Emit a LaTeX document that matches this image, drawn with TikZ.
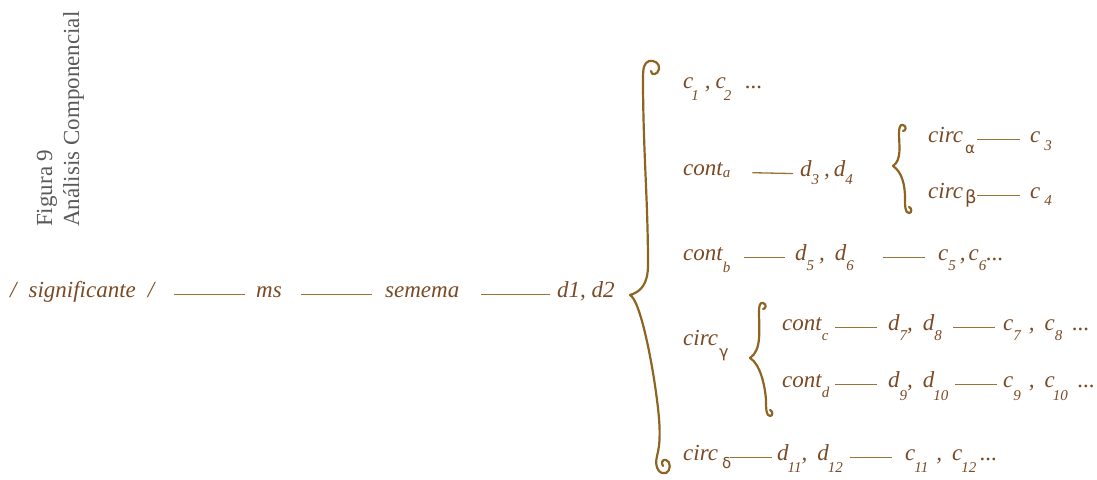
\documentclass[tikz,border=0pt]{standalone}
\usepackage{fontspec}
\setmainfont{Liberation Serif}
\newfontfamily\grk{DejaVu Sans}
\definecolor{txt}{HTML}{7B4A25}
\definecolor{linec}{HTML}{9A7235}
\definecolor{bracec}{HTML}{8E6422}
\definecolor{titlec}{HTML}{5A5A5A}
\newcommand\lo[2][11pt]{\raisebox{-#1}{\fontsize{15}{15}\selectfont #2}}
\newcommand\gr[3][11pt]{\raisebox{-#1}{\grk\upshape\fontsize{#2}{#2}\selectfont #3}}
\begin{document}
\begin{tikzpicture}[x=1pt,y=-1pt,
  t/.style={anchor=base west, inner sep=0pt, text=txt, font=\itshape\fontsize{23}{27}\selectfont},
  tw/.style={t, text width=#1, align=left},
  conn/.style={draw=linec, line width=1.3pt},
  brace/.style={draw=bracec, line width=2.2pt, line cap=round, line join=round},
  title/.style={anchor=base west, inner sep=0pt, text=titlec, font=\fontsize{23}{27}\selectfont, align=left, rotate=90}]
\useasboundingbox (0,0) rectangle (1097,479);

% title
\node[title] (title) at (79,227) {Figura 9\\Análisis Componencial};

% main row
\node[tw=164pt] (sig) at (10,297) {\mbox{/\hspace{12pt}significante\hspace{12pt}/}};
\node[tw=45pt] (ms) at (256,297) {ms};
\node[tw=96pt] (sem) at (385,297) {semema};
\node[t] (d12) at (557,297) {d1, d2};

% row 1
\node[t] (r1) at (683,88) {c\lo[12pt]{\kern-2pt 1}\hspace{6pt},\hspace{5pt}c\lo[12pt]{\kern-2pt 2}\hspace{14pt}...};

% row 2
\node[tw=69pt] (ca) at (683,175) {\mbox{cont\lo[2pt]{a}}};
\node[t] (d34) at (800,176) {d\lo[8pt]{3}\hspace{5pt},\hspace{4pt}d\lo[8pt]{4}};
\node[tw=49pt] (calpha) at (928,142) {\mbox{circ\hspace{2pt}\gr{15}{α}}};
\node[t] (c3) at (1030,142) {c\hspace{4pt}\lo[8pt]{3}};
\node[tw=49pt] (cbeta) at (928,198) {\mbox{circ\hspace{2pt}\gr[5pt]{18}{β}}};
\node[t] (c4) at (1030,198) {c\hspace{4pt}\lo[7pt]{4}};

% row 3
\node[tw=61pt] (cb) at (683,260) {\mbox{cont\lo[12pt]{b}}};
\node[tw=88pt] (d56) at (795,260) {\mbox{d\lo[10pt]{5}\hspace{5pt},\hspace{10pt}d\lo[10pt]{6}}};
\node[t] (c56) at (938,260) {c\lo[10pt]{5}\hspace{4pt},\hspace{3pt}c\lo[10pt]{6}...};

% row 4
\node[t] (cg) at (683,345) {circ\hspace{1pt}\gr[12pt]{16}{γ}};
\node[tw=53pt] (cc) at (782,330) {\mbox{cont\lo[10pt]{c}}};
\node[tw=65pt] (d78) at (888,330) {\mbox{d\lo[10pt]{7},\hspace{10pt}d\lo[10pt]{8}}};
\node[t] (c78) at (1003,330) {c\lo[10pt]{7}\hspace{8pt},\hspace{10pt}c\lo[10pt]{8}\hspace{10pt}...};
\node[tw=53pt] (cd) at (782,387) {\mbox{cont\lo[10pt]{d}}};
\node[tw=67pt] (d910) at (888,387) {\mbox{d\lo[13pt]{9},\hspace{10pt}d\lo[13pt]{\kern-1pt 10}}};
\node[t] (c910) at (1003,387) {c\lo[13pt]{9}\hspace{8pt},\hspace{10pt}c\lo[13pt]{\kern-2pt 10}\hspace{10pt}...};

% row 5
\node[tw=47pt] (cdel) at (683,460) {\mbox{circ\hspace{4pt}\gr[8pt]{15}{δ}}};
\node[tw=73pt] (d1112) at (777,460) {\mbox{d\lo[12pt]{\kern-1pt 11},\hspace{10pt}d\lo[12pt]{\kern-1pt 12}}};
\node[t] (c1112) at (905,460) {c\lo[12pt]{\kern-1pt 11}\hspace{8pt},\hspace{10pt}c\lo[12pt]{\kern-1pt 12}\,...};

% connectors
\draw[conn, shorten >=11pt] (sig.mid east) -- (ms.mid west);
\draw[conn, shorten >=13pt] (ms.mid east) -- (sem.mid west);
\draw[conn, shorten >=7pt] (sem.mid east) -- (d12.mid west);
\draw[conn, shorten >=7pt] (ca.mid east) -- (d34.mid west);
\draw[conn, shorten >=10pt, yshift=2pt] (calpha.mid east) -- (c3.mid west);
\draw[conn, shorten >=10pt, yshift=2pt] (cbeta.mid east) -- (c4.mid west);
\draw[conn, shorten >=10pt, yshift=2pt] (cb.mid east) -- (d56.mid west);
\draw[conn, shorten >=13pt, yshift=2pt] (d56.mid east) -- (c56.mid west);
\draw[conn, shorten >=11pt, yshift=5pt] (cc.mid east) -- (d78.mid west);
\draw[conn, shorten >=8pt, yshift=1pt] (d78.mid east) -- (c78.mid west);
\draw[conn, shorten >=11pt, yshift=5pt] (cd.mid east) -- (d910.mid west);
\draw[conn, shorten >=6pt, yshift=-1pt] (d910.mid east) -- (c910.mid west);
\draw[conn, shorten >=5pt] (cdel.mid east) -- (d1112.mid west);
\draw[conn, shorten >=13pt, yshift=-4pt] (d1112.mid east) -- (c1112.mid west);

% braces
\draw[brace] (651,71) .. controls (651,76) and (658,75) .. (659,69)
  .. controls (660,63) and (654,60) .. (649,61)
  .. controls (644,63) and (643,68) .. (643,78)
  .. controls (643,150) and (648,200) .. (648,265)
  .. controls (648,285) and (640,292) .. (630,295)
  .. controls (640,300) and (652,360) .. (657,400)
  .. controls (661,430) and (660,445) .. (657,456)
  .. controls (654,468) and (660,475) .. (666,473)
  .. controls (671,471) and (671,461) .. (666,460)
  .. controls (662,459) and (661,463) .. (663,466);
\draw[brace] (903,131) .. controls (906,131) and (907,126) .. (903,125)
  .. controls (900,124) and (899,128) .. (899,133)
  .. controls (899,145) and (902,160) .. (893,166)
  .. controls (902,172) and (905,185) .. (905,198)
  .. controls (905,206) and (905,213) .. (909,213)
  .. controls (912,213) and (912,208) .. (909,207);
\draw[brace] (763,309) .. controls (766,309) and (767,304) .. (763,303)
  .. controls (760,302) and (759,306) .. (759,311)
  .. controls (759,330) and (762,350) .. (750,358)
  .. controls (760,364) and (765,385) .. (766,400)
  .. controls (766,408) and (766,416) .. (770,416)
  .. controls (773,416) and (773,411) .. (770,410);
\end{tikzpicture}
\end{document}
